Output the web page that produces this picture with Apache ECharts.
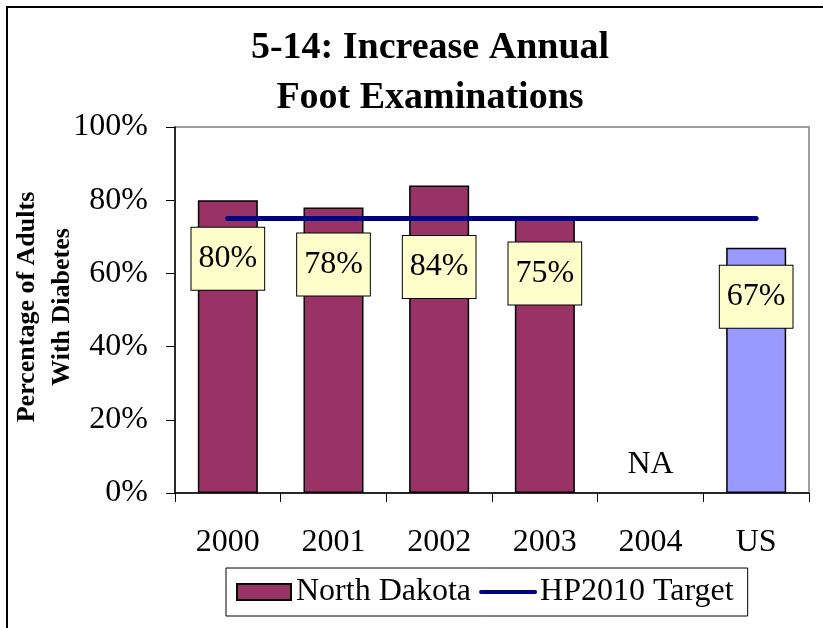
<!DOCTYPE html>
<html>
<head>
<meta charset="utf-8">
<script src="https://cdn.jsdelivr.net/npm/echarts@6/dist/echarts.min.js"></script>
<style>
  html, body { margin: 0; padding: 0; background: #fff; }
  #chart { width: 823px; height: 628px; }
</style>
</head>
<body>
<div id="chart"></div>
<script>
// 数据
var categories = ['2000', '2001', '2002', '2003', '2004', 'US'];
var ndValues = [80, 78, 84, 75, null, 67];
var targetValues = [75, 75, 75, 75, 75, 75];
var usIndex = 5;

var font = '"Liberation Serif", "Times New Roman", serif';

var chart = echarts.init(document.getElementById('chart'));

// 柱子数据: US 用浅蓝色, 缺失值显示 NA
var barData = ndValues.map(function (v, i) {
  if (v == null) {
    return {
      value: 0,
      itemStyle: { borderWidth: 0 },
      label: {
        show: true, formatter: 'NA', position: 'top', distance: 28,
        backgroundColor: 'transparent', borderWidth: 0, padding: 0
      }
    };
  }
  var item = { value: v };
  if (i === usIndex) item.itemStyle = { color: '#9999FF' };
  // 2002 的标签在原图里放得比较低
  if (v > 82) item.label = { offset: [0, 20] };
  return item;
});

var option = {
  backgroundColor: '#fff',
  animation: false,
  title: {
    text: '5-14: Increase Annual\nFoot Examinations',
    left: 425,
    top: 18,
    textAlign: 'center',
    textStyle: { fontFamily: font, fontSize: 38, fontWeight: 'bold', color: '#000', lineHeight: 50 }
  },
  grid: {
    left: 175, right: 14, top: 127, bottom: 135,
    show: true, borderColor: '#a0a0a0', borderWidth: 2
  },
  legend: {
    left: 226, top: 568,
    data: [
      { name: 'North Dakota', icon: 'rect' },
      { name: 'HP2010 Target', itemStyle: { color: 'rgba(0,0,0,0)', borderWidth: 0 }, lineStyle: { width: 4 } }
    ],
    borderColor: '#000', borderWidth: 1,
    padding: [8, 14, 8, 10],
    itemWidth: 54, itemHeight: 16, itemGap: 8,
    textStyle: { fontFamily: font, fontSize: 32, color: '#000' }
  },
  xAxis: {
    type: 'category',
    data: categories,
    axisLine: { lineStyle: { color: '#000', width: 1.5 } },
    axisTick: { show: true, length: 9, lineStyle: { color: '#000' } },
    axisLabel: { fontFamily: font, fontSize: 32, color: '#000', margin: 34 }
  },
  yAxis: {
    type: 'value',
    min: 0, max: 100, interval: 20,
    axisLine: { show: true, lineStyle: { color: '#000', width: 1.5 } },
    axisTick: { show: true, length: 9, lineStyle: { color: '#000' } },
    splitLine: { show: false },
    axisLabel: { fontFamily: font, fontSize: 32, color: '#000', margin: 27, formatter: '{value}%' }
  },
  graphic: [
    {
      type: 'rect',
      shape: { x: 7, y: 7, width: 900, height: 700 },
      style: { fill: 'none', stroke: '#000', lineWidth: 2 },
      silent: true
    },
    {
      type: 'text',
      x: 45, y: 307, rotation: Math.PI / 2,
      style: {
        text: 'Percentage of Adults\nWith Diabetes',
        font: 'bold 26px ' + font,
        fill: '#000', align: 'center', verticalAlign: 'middle', lineHeight: 35
      }
    }
  ],
  series: [
    {
      name: 'North Dakota',
      type: 'bar',
      barWidth: 60,
      data: barData,
      itemStyle: { color: '#993366', borderColor: '#000', borderWidth: 1.5 },
      label: {
        show: true,
        position: ['50%', '20%'],
        align: 'center', verticalAlign: 'middle',
        formatter: '{c}%',
        fontFamily: font, fontSize: 32, color: '#000',
        backgroundColor: '#FFFFCC', borderColor: '#000', borderWidth: 1,
        padding: [16, 7, 14, 7]
      },
      z: 2
    },
    {
      name: 'HP2010 Target',
      type: 'line',
      data: targetValues,
      symbol: 'none',
      lineStyle: { color: '#000080', width: 5, cap: 'round' },
      itemStyle: { color: '#000080' },
      z: 3
    }
  ]
};

chart.setOption(option);
</script>
</body>
</html>
